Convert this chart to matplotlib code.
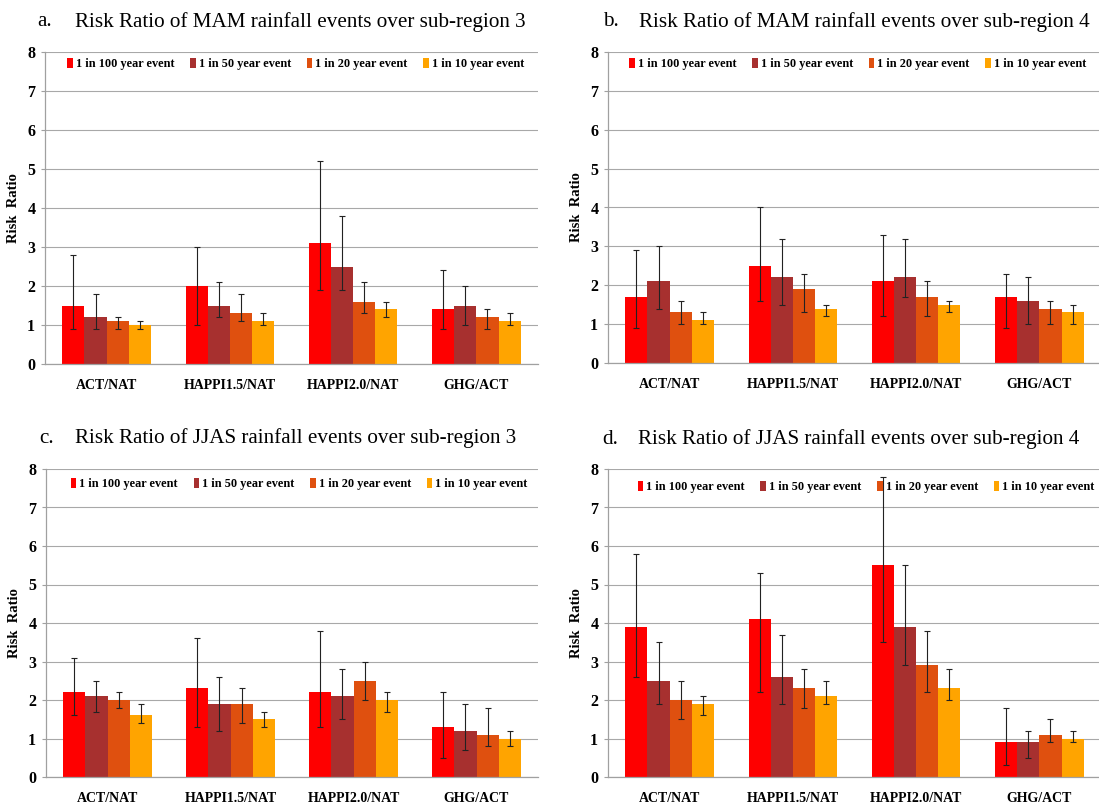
import numpy as np
import matplotlib
matplotlib.use("Agg")
import matplotlib.pyplot as plt

plt.rcParams['font.family'] = ['Liberation Serif', 'DejaVu Serif']

W, H = 1099, 805

categories = ['ACT/NAT', 'HAPPI1.5/NAT', 'HAPPI2.0/NAT', 'GHG/ACT']
series = ['1 in 100 year event', '1 in 50 year event', '1 in 20 year event', '1 in 10 year event']
colors = ['#fe0000', '#a7302f', '#df500f', '#ffa400']

# rows: return period (100, 50, 20, 10 yr); columns: categories
mam_r3_val = [[1.5, 2.0, 3.1, 1.4], [1.2, 1.5, 2.5, 1.5], [1.1, 1.3, 1.6, 1.2], [1.0, 1.1, 1.4, 1.1]]
mam_r3_lo = [[0.9, 1.0, 1.9, 0.9], [0.9, 1.2, 1.9, 1.0], [0.9, 1.1, 1.3, 0.9], [0.9, 1.0, 1.2, 1.0]]
mam_r3_hi = [[2.8, 3.0, 5.2, 2.4], [1.8, 2.1, 3.8, 2.0], [1.2, 1.8, 2.1, 1.4], [1.1, 1.3, 1.6, 1.3]]

mam_r4_val = [[1.7, 2.5, 2.1, 1.7], [2.1, 2.2, 2.2, 1.6], [1.3, 1.9, 1.7, 1.4], [1.1, 1.4, 1.5, 1.3]]
mam_r4_lo = [[0.9, 1.6, 1.2, 0.9], [1.4, 1.5, 1.7, 1.0], [1.0, 1.3, 1.2, 1.0], [1.0, 1.2, 1.3, 1.0]]
mam_r4_hi = [[2.9, 4.0, 3.3, 2.3], [3.0, 3.2, 3.2, 2.2], [1.6, 2.3, 2.1, 1.6], [1.3, 1.5, 1.6, 1.5]]

jjas_r3_val = [[2.2, 2.3, 2.2, 1.3], [2.1, 1.9, 2.1, 1.2], [2.0, 1.9, 2.5, 1.1], [1.6, 1.5, 2.0, 1.0]]
jjas_r3_lo = [[1.6, 1.3, 1.3, 0.5], [1.7, 1.2, 1.5, 0.7], [1.8, 1.4, 2.0, 0.8], [1.4, 1.3, 1.7, 0.8]]
jjas_r3_hi = [[3.1, 3.6, 3.8, 2.2], [2.5, 2.6, 2.8, 1.9], [2.2, 2.3, 3.0, 1.8], [1.9, 1.7, 2.2, 1.2]]

jjas_r4_val = [[3.9, 4.1, 5.5, 0.9], [2.5, 2.6, 3.9, 0.9], [2.0, 2.3, 2.9, 1.1], [1.9, 2.1, 2.3, 1.0]]
jjas_r4_lo = [[2.6, 2.2, 3.5, 0.3], [1.9, 1.9, 2.9, 0.5], [1.5, 1.8, 2.2, 0.9], [1.6, 1.9, 2.0, 0.9]]
jjas_r4_hi = [[5.8, 5.3, 7.8, 1.8], [3.5, 3.7, 5.5, 1.2], [2.5, 2.8, 3.8, 1.5], [2.1, 2.5, 2.8, 1.2]]

panels = [
    # letter, title, data, axes box (left, top, right, bottom px),
    # title y, letter x, title x, legend anchor
    ('a.', 'Risk Ratio of MAM rainfall events over sub-region 3',
     (mam_r3_val, mam_r3_lo, mam_r3_hi), (45, 52, 538, 364), 22, 37, 75, (0.035, 0.962)),
    ('b.', 'Risk Ratio of MAM rainfall events over sub-region 4',
     (mam_r4_val, mam_r4_lo, mam_r4_hi), (608, 52, 1101, 363), 22, 603, 639, (0.033, 0.962)),
    ('c.', 'Risk Ratio of JJAS rainfall events over sub-region 3',
     (jjas_r3_val, jjas_r3_lo, jjas_r3_hi), (46, 469, 538, 777), 438, 39, 75, (0.04, 0.951)),
    ('d.', 'Risk Ratio of JJAS rainfall events over sub-region 4',
     (jjas_r4_val, jjas_r4_lo, jjas_r4_hi), (608, 469, 1101, 777), 439, 602, 638, (0.05, 0.942)),
]

fig = plt.figure(figsize=(W / 100, H / 100), dpi=100)

x = np.arange(len(categories))
bw = 0.18

for letter, title, (val, lo, hi), (l, t, r, b), ty, lx, tx, anchor in panels:
    ax = fig.add_axes([l / W, 1 - b / H, (r - l) / W, (b - t) / H])
    for i, name in enumerate(series):
        v = np.array(val[i])
        err = [v - np.array(lo[i]), np.array(hi[i]) - v]
        ax.bar(x + (i - 1.5) * bw, v, bw, color=colors[i], label=name, zorder=2,
               yerr=err, error_kw=dict(ecolor='#222222', elinewidth=0.8,
                                       capsize=2, capthick=0.8, zorder=3))
    ax.set_xlim(-0.5, 3.5)
    ax.set_ylim(0, 8)
    ax.set_yticks(range(0, 9))
    ax.set_xticks(x)
    ax.set_xticklabels(categories, fontweight='bold', fontsize=10)
    ax.tick_params(axis='x', length=0, pad=11)
    ax.tick_params(axis='y', length=3, color='#a0a0a0', pad=4, labelsize=11.5)
    for lab in ax.get_yticklabels():
        lab.set_fontweight('bold')
    ax.yaxis.grid(True, color='#a8a8a8', linewidth=0.8, zorder=0)
    ax.set_axisbelow(True)
    for s in ('top', 'right'):
        ax.spines[s].set_visible(False)
    for s in ('left', 'bottom'):
        ax.spines[s].set_color('#a0a0a0')
        ax.spines[s].set_linewidth(0.9)
    ax.set_ylabel('Risk  Ratio', fontweight='bold', fontsize=10.5, labelpad=5)

    ax.legend(ncol=4, loc='center left', bbox_to_anchor=anchor,
              frameon=False, handlelength=0.45, handleheight=0.9,
              handletextpad=0.25, columnspacing=1.3, borderaxespad=0,
              prop=dict(weight='bold', size=8.8))

    fig.text(lx / W, 1 - ty / H, letter, fontsize=15.2, va='center', ha='left')
    fig.text(tx / W, 1 - ty / H, title, fontsize=15.2, va='center', ha='left')

fig.savefig('out.png', dpi=100)
